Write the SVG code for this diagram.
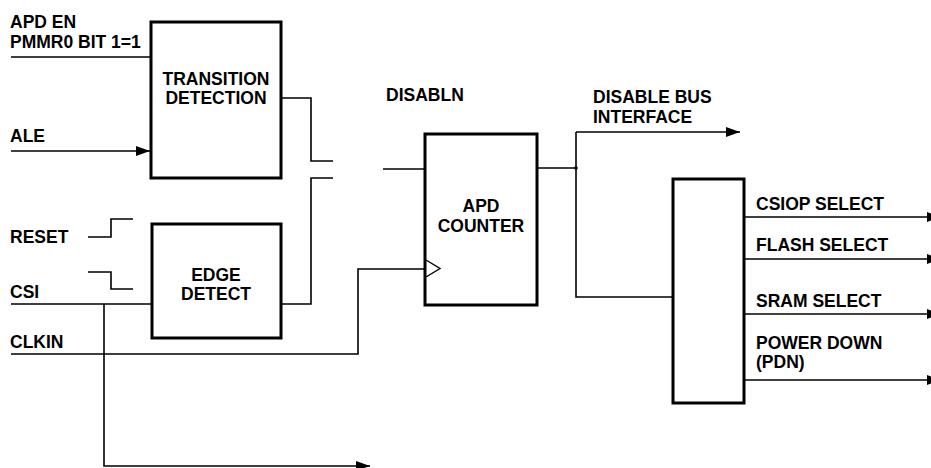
<svg xmlns="http://www.w3.org/2000/svg" width="931" height="468" viewBox="0 0 931 468">
<defs>
<marker id="ah" markerWidth="14" markerHeight="10" refX="14" refY="5" orient="auto" markerUnits="userSpaceOnUse">
<path d="M0,0 L14,5 L0,10 Z" fill="#000"/>
</marker>
</defs>
<style>
.box{fill:#fff;stroke:#000;stroke-width:3}
.w{fill:none;stroke:#000;stroke-width:1.6}
.t{font-family:"Liberation Sans",Arial,sans-serif;font-weight:bold;font-size:17.5px;fill:#000}
.c{text-anchor:middle}
</style>
<rect width="931" height="468" fill="#fff"/>
<g id="connectors">
<path class="w" d="M11,57 H151"/>
<path class="w" d="M11,151 H150" marker-end="url(#ah)"/>
<path class="w" d="M281,98 H311 V161 H333"/>
<path class="w" d="M281,304 H311 V178 H333"/>
<path class="w" d="M383,169 H425"/>
<path class="w" d="M11,354 H358 V269 H425"/>
<path class="w" d="M11,304 H152"/>
<path class="w" d="M104,304 V466 H370" marker-end="url(#ah)"/>
<path class="w" d="M88,237 H111 V219 H133"/>
<path class="w" d="M88,272 H111 V289 H133"/>
<path class="w" d="M537,168 H576"/>
<path class="w" d="M576,132 H740" marker-end="url(#ah)"/>
<path class="w" d="M576,132 V297 H673"/>
<circle cx="576" cy="168" r="1.8" fill="#000"/>
<path class="w" d="M744,217 H941" marker-end="url(#ah)"/>
<path class="w" d="M744,259 H941" marker-end="url(#ah)"/>
<path class="w" d="M744,314 H941" marker-end="url(#ah)"/>
<path class="w" d="M744,380 H941" marker-end="url(#ah)"/>
</g>
<g id="transition">
<rect class="box" x="151" y="22" width="130" height="156"/>
<text class="t c" x="216" y="85">TRANSITION</text>
<text class="t c" x="216" y="104">DETECTION</text>
</g>
<g id="edge">
<rect class="box" x="152" y="224" width="129" height="114"/>
<text class="t c" x="216" y="281">EDGE</text>
<text class="t c" x="216" y="300">DETECT</text>
</g>
<g id="counter">
<rect class="box" x="425" y="134" width="112" height="171"/>
<path d="M426,260 L440,268.5 L426,277" fill="none" stroke="#000" stroke-width="1.4"/>
<text class="t c" x="481" y="212">APD</text>
<text class="t c" x="481" y="232">COUNTER</text>
</g>
<g id="decoder">
<rect class="box" x="673" y="179" width="71" height="224"/>
</g>
<g id="labels">
<text class="t" x="10" y="28">APD EN</text>
<text class="t" x="10" y="48">PMMR0 BIT 1=1</text>
<text class="t" x="10" y="142">ALE</text>
<text class="t" x="10" y="243">RESET</text>
<text class="t" x="10" y="298">CSI</text>
<text class="t" x="10" y="348">CLKIN</text>
<text class="t" x="386" y="101">DISABLN</text>
<text class="t" x="593" y="103">DISABLE BUS</text>
<text class="t" x="593" y="123">INTERFACE</text>
<text class="t" x="756" y="210">CSIOP SELECT</text>
<text class="t" x="756" y="251">FLASH SELECT</text>
<text class="t" x="756" y="307">SRAM SELECT</text>
<text class="t" x="756" y="349">POWER DOWN</text>
<text class="t" x="756" y="368">(PDN)</text>
</g>
</svg>
